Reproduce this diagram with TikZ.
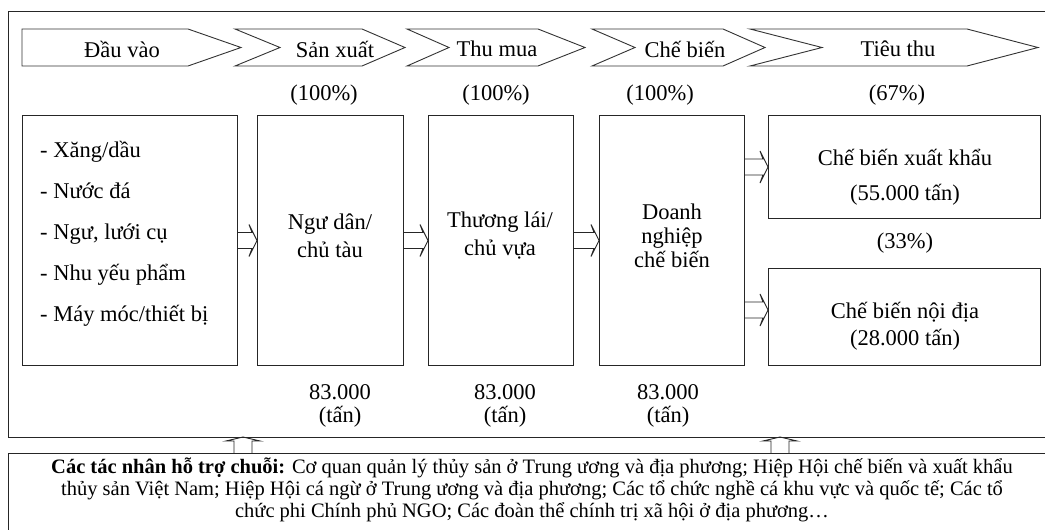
\documentclass[tikz,border=0pt]{standalone}
\usepackage{fontspec}
\setmainfont{Liberation Serif}
\usetikzlibrary{calc}
\begin{document}
\begin{tikzpicture}[x=1pt,y=-1pt,
  frame/.style={draw=black!85, line width=1pt},
  chev/.style={draw=black!80, line width=0.9pt},
  box/.style={draw=black!85, line width=1pt, inner sep=0pt, align=center,
    anchor=north west},
  lbl/.style={inner sep=0pt, align=center, font=\fontsize{22.5}{26}\selectfont},
  harrow/.style={draw=black!85, line width=0.9pt, to path={let \p1=(\tikztostart), \p2=(\tikztotarget) in
    (\x1,\y2+8pt) -- (\x2-5pt,\y2+8pt) -- (\x2-8pt,\y2+16pt) -- (\x2,\y2) -- (\x2-8pt,\y2-16pt) -- (\x2-5pt,\y2-8pt) -- (\x1,\y2-8pt)}},
  uarrow/.style={draw=black!85, line width=0.9pt, to path={let \p1=(\tikztostart), \p2=(\tikztotarget) in
    (\x1-9pt,\y1) -- (\x1-9pt,\y2-4pt) -- (\x1-17pt,\y2-4pt) -- (\x1,\y2) -- (\x1+17pt,\y2-4pt) -- (\x1+9pt,\y2-4pt) -- (\x1+9pt,\y1)}}
]
\useasboundingbox (0,0) rectangle (1045,530);
\clip (0,0) rectangle (1045,530);
\fill[white] (0,0) rectangle (1045,530);

% outer frame and support box
\node[frame, inner sep=0pt, minimum width=1060pt, minimum height=426pt, anchor=north west] (outer) at (8,11) {};
\node[frame, inner sep=0pt, minimum width=1060pt, minimum height=100pt, anchor=north west] (sup) at (8,453) {};

% chevrons
\draw[chev] (22,29) -- (188,29) -- (241,47.5) -- (188,66) -- (22,66) -- cycle;
\draw[chev] (235,29) -- (362,29) -- (405,47.5) -- (362,66) -- (235,66) -- (280,47.5) -- cycle;
\draw[chev] (407,29) -- (538,29) -- (585,47.5) -- (538,66) -- (407,66) -- (449,47.5) -- cycle;
\draw[chev] (592,29) -- (723,29) -- (765,47.5) -- (723,66) -- (592,66) -- (635,47.5) -- cycle;
\draw[chev] (750,29) -- (967,29) -- (1038,47.5) -- (967,66) -- (750,66) -- (822,47.5) -- cycle;
\node[lbl] (c1) at (122,49) {Đầu vào};
\node[lbl] (c2) at (335,49) {Sản xuất};
\node[lbl] (c3) at (497,49) {Thu mua};
\node[lbl] (c4) at (685,49) {Chế biến};
\node[lbl] (c5) at (898,49) {Tiêu thu};

% percentages
\node[lbl] (p1) at (324,95) {(100\%)};
\node[lbl] (p2) at (496,95) {(100\%)};
\node[lbl] (p3) at (660,95) {(100\%)};
\node[lbl] (p4) at (897,95) {(67\%)};
\node[lbl] (p5) at (905,243) {(33\%)};

% boxes
\node[box, minimum width=215pt, minimum height=250pt] (inp) at (22,115) {};
\node[lbl, anchor=west, align=left, font=\fontsize{22.5}{41}\selectfont] (list) at (40,234)
  {- Xăng/dầu\\- Nước đá\\- Ngư, lưới cụ\\- Nhu yếu phẩm\\- Máy móc/thiết bị};
\node[box, minimum width=146pt, minimum height=250pt] (nd) at (257,115) {};
\node[lbl, font=\fontsize{22.5}{28}\selectfont] (ndt) at (330,236) {Ngư dân/\\chủ tàu};
\node[box, minimum width=145pt, minimum height=250pt] (tl) at (428,115) {};
\node[lbl, font=\fontsize{22.5}{28}\selectfont] (tlt) at (500,236) {Thương lái/\\chủ vựa};
\node[box, minimum width=145pt, minimum height=250pt] (dn) at (599,115) {};
\node[lbl, font=\fontsize{22.5}{24}\selectfont] (dnt) at (672,236) {Doanh\\nghiệp\\chế biến};
\node[box, minimum width=272pt, minimum height=103pt] (xk) at (768,115) {};
\node[lbl, font=\fontsize{22.5}{35}\selectfont] (xkt) at (905,177) {Chế biến xuất khẩu\\(55.000 tấn)};
\node[box, minimum width=272pt, minimum height=97pt] (ndi) at (768,268) {};
\node[lbl, font=\fontsize{22.5}{27}\selectfont] (ndit) at (905,326) {Chế biến nội địa\\(28.000 tấn)};

% quantities
\node[lbl, font=\fontsize{22.5}{23}\selectfont] (q1) at (340,406) {83.000\\(tấn)};
\node[lbl, font=\fontsize{22.5}{23}\selectfont] (q2) at (505,406) {83.000\\(tấn)};
\node[lbl, font=\fontsize{22.5}{23}\selectfont] (q3) at (668,406) {83.000\\(tấn)};

% arrows
\draw[harrow] (inp.east) to (nd.west);
\draw[harrow] (nd.east) to (tl.west);
\draw[harrow] (tl.east) to (dn.west);
\draw[harrow] (dn.east |- xk.west) to (xk.west);
\draw[harrow] ($(dn.east |- ndi.west)+(0,-7)$) to ($(ndi.west)+(0,-7)$);

\coordinate (a1b) at (243,453);
\coordinate (a1t) at (243,437);
\coordinate (a2b) at (780,453);
\coordinate (a2t) at (780,437);
\draw[uarrow] (a1b) to (a1t);
\draw[uarrow] (a2b) to (a2t);

% support text
\node[lbl, font=\fontsize{20.5}{22}\selectfont] (supt) at (532,490)
  {\textbf{Các tác nhân hỗ trợ chuỗi:} Cơ quan quản lý thủy sản ở Trung ương và địa phương; Hiệp Hội chế biến và xuất khẩu\\
   thủy sản Việt Nam; Hiệp Hội cá ngừ ở Trung ương và địa phương; Các tổ chức nghề cá khu vực và quốc tế; Các tổ\\
   chức phi Chính phủ NGO; Các đoàn thể chính trị xã hội ở địa phương…};
\end{tikzpicture}
\end{document}
